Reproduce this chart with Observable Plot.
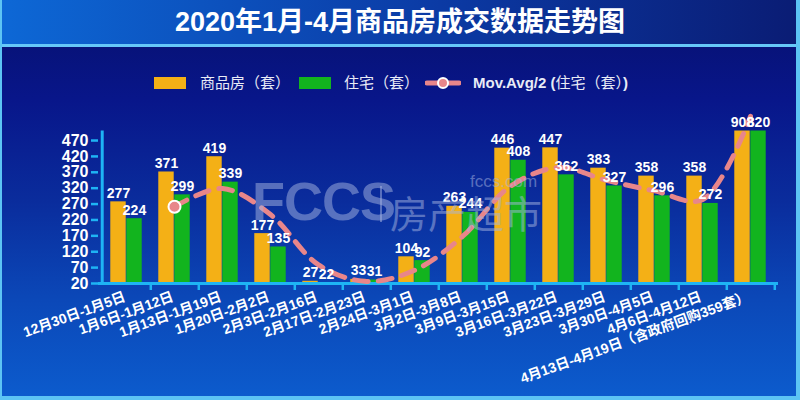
<!DOCTYPE html>
<html><head><meta charset="utf-8">
<script src="https://cdn.jsdelivr.net/npm/d3@7"></script>
<script src="https://cdn.jsdelivr.net/npm/@observablehq/plot@0.6"></script>
<style>
body{margin:0;background:#fff;}
#wrap{position:relative;width:800px;height:400px;overflow:hidden;
 background:linear-gradient(to bottom,#07106c 0%,#08168a 25%,#0a2c9c 50%,#0b48b8 75%,#0c5cce 100%);
 font-family:"Liberation Sans","Noto Sans CJK SC",sans-serif;}
#title{position:absolute;left:0;top:0;width:800px;height:44px;
 background:linear-gradient(to right,#0d68d6,#0b3aa4 55%,#0a1c74);
 color:#fff;font-weight:bold;font-size:27px;line-height:44px;text-align:center;}
#tline{position:absolute;left:0;top:44px;width:800px;height:3px;background:#66c8f8;}
.bl{position:absolute;background:#5cc4f4;}
.lg{position:absolute;color:#e8ebf6;font-size:15px;line-height:18px;top:74px;white-space:nowrap;}
.sw{position:absolute;top:77px;width:32px;height:12px;}
#chart{position:absolute;left:0;top:0;}
.wm{position:absolute;color:#a6b4e0;opacity:0.5;pointer-events:none;white-space:nowrap;}
</style></head>
<body>
<div id="wrap">
  <div id="chart"></div>
  <div id="title">2020年1月-4月商品房成交数据走势图</div>
  <div id="tline"></div>
  <div class="bl" style="left:0;top:0;width:2px;height:400px"></div>
  <div class="bl" style="right:0;top:0;width:4px;height:400px"></div>
  <div class="bl" style="left:0;bottom:0;width:800px;height:4px"></div>
  <div class="sw" style="left:154px;background:#f4b016"></div>
  <div class="lg" style="left:200px">商品房（套）</div>
  <div class="sw" style="left:299px;background:#12b41e"></div>
  <div class="lg" style="left:344px">住宅（套）</div>
  <svg style="position:absolute;left:425px;top:76px" width="36" height="14">
    <line x1="2" y1="7" x2="34" y2="7" stroke="#e8868a" stroke-width="5" stroke-linecap="round"/>
    <circle cx="18" cy="7" r="5" fill="#e8868a" stroke="#fff" stroke-width="2"/>
  </svg>
  <div class="lg" style="left:473px"><b>Mov.Avg/2 (</b>住宅（套）<b>)</b></div>
  <div class="wm" style="left:252px;top:170px;font-size:54px;font-weight:bold;letter-spacing:-1px">FCCS</div>
  <div class="wm" style="left:380px;top:186px;width:2px;height:36px;background:#a6b4e0"></div>
  <div class="wm" style="left:390px;top:184px;font-size:38px;">房产超市</div>
  <div class="wm" style="left:470px;top:172px;font-size:17px;">fccs.com</div>
</div>
<script>
const categories = ["12月30日-1月5日","1月6日-1月12日","1月13日-1月19日","1月20日-2月2日","2月3日-2月16日","2月17日-2月23日","2月24日-3月1日","3月2日-3月8日","3月9日-3月15日","3月16日-3月22日","3月23日-3月29日","3月30日-4月5日","4月6日-4月12日","4月13日-4月19日（含政府回购359套）"];
const commercial = [277,371,419,177,27,33,104,263,446,447,383,358,358,908];
const residential = [224,299,339,135,22,31,92,244,408,362,327,296,272,820];
const movAvg = [null,261.5,319,237,78.5,26.5,61.5,168,326,385,344.5,311.5,284,546];
const yTicks = [20,70,120,170,220,270,320,370,420,470];
const yMin = 20, yMax = 500;

const rows = categories.map((c,i)=>({cat:c,c:commercial[i],r:residential[i],ma:movAvg[i]}));
const maRows = rows.filter(d=>d.ma!=null);

const W=800,H=400,mL=98,mR=22,mT=130.5,mB=117;
const bw=(W-mL-mR)/categories.length;
const barW=16;
const cyan="#1eb4f4", yellow="#f4b016", green="#12b41e", pink="#e8868a";

const plot = Plot.plot({
  width:W,height:H,marginLeft:mL,marginRight:mR,marginTop:mT,marginBottom:mB,
  style:{background:"transparent",overflow:"visible",fontFamily:'"Liberation Sans","Noto Sans CJK SC",sans-serif',fontWeight:"bold"},
  x:{domain:categories,padding:0},
  y:{domain:[yMin,yMax]},
  marks:[
    Plot.barY(rows,{x:"cat",y1:yMin,y2:"c",fill:yellow,insetLeft:bw/2-barW,insetRight:bw/2,clip:true}),
    Plot.barY(rows,{x:"cat",y1:yMin,y2:"r",fill:green,insetLeft:bw/2,insetRight:bw/2-barW,clip:true}),
    Plot.ruleY([yMin],{stroke:cyan,strokeWidth:3}),
    Plot.ruleX([categories[0]],{dx:-bw/2,y1:yMin,y2:yMax,stroke:cyan,strokeWidth:3}),
    Plot.axisY({ticks:yTicks,tickSize:7,tickPadding:3,fill:"white",stroke:cyan,strokeWidth:2.5,fontSize:16,fontWeight:"bold",label:null}),
    Plot.axisX({tickSize:7,tickFormat:()=>"",dx:bw/2,stroke:cyan,strokeWidth:2.5,label:null}),
    Plot.text(categories,{x:d=>d,frameAnchor:"bottom",rotate:-20,textAnchor:"end",dy:17,fill:"white",fontSize:14,fontWeight:"bold"}),
    Plot.line(maRows,{x:"cat",y:"ma",curve:"catmull-rom",stroke:pink,strokeWidth:5,strokeDasharray:"14,10",strokeLinecap:"round"}),
    Plot.dot(maRows.slice(0,1),{x:"cat",y:"ma",r:6,fill:pink,stroke:"white",strokeWidth:2}),
    Plot.text(rows,{x:"cat",y:d=>Math.min(d.c,yMax),text:d=>String(d.c),dx:-barW/2,dy:-4,lineAnchor:"bottom",fill:"white",fontSize:14,fontWeight:"bold"}),
    Plot.text(rows,{x:"cat",y:d=>Math.min(d.r,yMax),text:d=>String(d.r),dx:barW/2,dy:-4,lineAnchor:"bottom",fill:"white",fontSize:14,fontWeight:"bold"})
  ]
});
document.getElementById("chart").appendChild(plot);
</script>
</body></html>
